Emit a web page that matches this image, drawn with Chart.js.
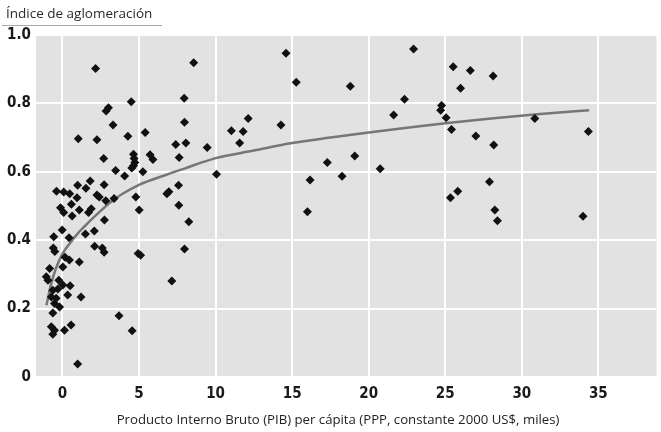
<!DOCTYPE html>
<html>
<head>
<meta charset="utf-8">
<script src="https://cdn.jsdelivr.net/npm/chart.js@4/dist/chart.umd.min.js"></script>
<style>
html,body{margin:0;padding:0;background:#fff;}
#wrap{width:661px;height:432px;position:relative;}
</style>
</head>
<body>
<div id="wrap"><canvas id="c" width="661" height="432"></canvas></div>
<script>
const chartTitle = 'Índice de aglomeración';
const xAxisTitle = 'Producto Interno Bruto (PIB) per cápita (PPP, constante 2000 US$, miles)';
const xTicks = [0, 5, 10, 15, 20, 25, 30, 35];
const yTicks = [0, 0.2, 0.4, 0.6, 0.8, 1.0];

const gdpPerCapita = [
  2.16, 8.57, 14.6, 15.27, 4.49, 7.95, 2.85, 3.0, 3.3, 7.97, 12.13, 14.27, 11.03, 11.8,
  1.03, 2.25, 4.27, 5.4, 11.57, 7.4, 8.06, 9.45, 2.69, 4.64, 4.68, 4.73, 4.64, 4.53,
  5.72, 5.91, 7.62, 3.47, 4.06, 5.25, 10.06, 16.0, 16.17, 17.3,
  22.93, 18.8, 25.52, 26.64, 28.13, 26.0, 22.34, 21.63, 24.76, 24.7, 25.06, 25.41,
  30.85, 34.35, 27.0, 28.17, 19.09, 18.26, 20.75, 27.89, 25.82, 25.34, 28.24, 34.0, 28.41,
  8.25, 7.97, 4.94, 5.1, 7.14, 3.69, 4.55, 4.79, 5.01, 2.83, 3.37, 7.6, 6.82, 6.95, 7.58,
  1.81, 0.99, 1.53, 2.72, -0.39, 0.08, 0.47, 0.95, 2.25, 2.4, 0.58, -0.13, 0.08, 1.1,
  1.88, 1.7, 0.63, 2.74, -0.02, 1.5, 2.08, -0.57, 0.43, -0.6, -0.5, 2.1, 2.6, 2.72,
  0.17, 0.45, 0.02, 1.1, -0.84, -1.06, -0.95, -0.24, 0.02, 0.5, -0.63, -0.3, 0.34, 1.21,
  -0.73, -0.41, -0.52, -0.19, -0.63, -0.73, -0.52, -0.63, 0.13, 0.56, 0.99
];
const agglomerationIndex = [
  0.902, 0.919, 0.947, 0.862, 0.805, 0.815, 0.778, 0.787, 0.737, 0.745, 0.756, 0.737, 0.72, 0.718,
  0.697, 0.694, 0.704, 0.715, 0.684, 0.68, 0.684, 0.671, 0.639, 0.651, 0.639, 0.627, 0.618, 0.611,
  0.65, 0.636, 0.642, 0.604, 0.588, 0.6, 0.593, 0.483, 0.576, 0.627,
  0.959, 0.85, 0.907, 0.896, 0.88, 0.844, 0.812, 0.766, 0.794, 0.78, 0.758, 0.724,
  0.756, 0.718, 0.705, 0.678, 0.646, 0.587, 0.609, 0.571, 0.543, 0.524, 0.488, 0.47, 0.457,
  0.454, 0.374, 0.361, 0.356, 0.281, 0.179, 0.135, 0.526, 0.488, 0.515, 0.522, 0.502, 0.536, 0.542, 0.561,
  0.573, 0.561, 0.552, 0.562, 0.543, 0.541, 0.536, 0.524, 0.532, 0.526, 0.505, 0.495, 0.481, 0.488,
  0.492, 0.481, 0.471, 0.459, 0.43, 0.418, 0.427, 0.41, 0.407, 0.377, 0.367, 0.382, 0.377, 0.365,
  0.35, 0.342, 0.322, 0.336, 0.317, 0.293, 0.283, 0.283, 0.269, 0.267, 0.254, 0.257, 0.24, 0.234,
  0.234, 0.23, 0.215, 0.205, 0.187, 0.147, 0.137, 0.125, 0.137, 0.152, 0.038
];
const trendX = [-1.05, -0.75, -0.45, 0, 0.5, 1, 1.5, 2, 2.6, 3.2, 3.9, 5, 6.7, 8, 10, 12.5, 15, 17.5, 20, 22.5, 25, 28, 31, 34.4];
const trendY = [0.21, 0.27, 0.315, 0.36, 0.392, 0.42, 0.443, 0.465, 0.49, 0.513, 0.535, 0.562, 0.59, 0.61, 0.64, 0.662, 0.684, 0.7, 0.715, 0.729, 0.742, 0.756, 0.768, 0.78];

const scatterData = gdpPerCapita.map((x, i) => ({x: x, y: agglomerationIndex[i]}));
const trendData = trendX.map((x, i) => ({x: x, y: trendY[i]}));

const plotBg = {
  id: 'plotBg',
  beforeDraw(chart) {
    const {ctx, chartArea: a} = chart;
    ctx.save();
    ctx.fillStyle = '#e2e2e2';
    ctx.fillRect(a.left, a.top, a.right - a.left, a.bottom - a.top);
    ctx.restore();
  },
  afterDraw(chart) {
    const {ctx} = chart;
    ctx.save();
    ctx.fillStyle = '#2a2a2a';
    ctx.font = '13.5px "Open Sans", "Noto Sans", sans-serif';
    ctx.textBaseline = 'alphabetic';
    ctx.textAlign = 'left';
    ctx.fillText(chartTitle, 6, 18);
    ctx.strokeStyle = '#a8a8a8';
    ctx.lineWidth = 1;
    ctx.beginPath();
    ctx.moveTo(2, 25.5);
    ctx.lineTo(162, 25.5);
    ctx.stroke();
    ctx.font = '13.2px "Open Sans", "Noto Sans", sans-serif';
    ctx.textAlign = 'center';
    ctx.fillStyle = '#222';
    ctx.fillText(xAxisTitle, 338, 424);
    ctx.restore();
  }
};

new Chart(document.getElementById('c'), {
  type: 'scatter',
  data: {
    datasets: [
      {
        type: 'line',
        data: trendData,
        borderColor: '#767676',
        borderWidth: 2.5,
        pointRadius: 0,
        fill: false,
        cubicInterpolationMode: 'monotone',
        order: 2
      },
      {
        data: scatterData,
        pointStyle: 'rectRot',
        pointRadius: 4.5,
        pointHoverRadius: 4.5,
        backgroundColor: '#111',
        borderColor: '#111',
        borderWidth: 0,
        order: 1
      }
    ]
  },
  options: {
    responsive: false,
    animation: false,
    events: [],
    layout: {padding: {top: 35, right: 0, left: 0, bottom: 0}},
    plugins: {legend: {display: false}, tooltip: {enabled: false}, title: {display: false}},
    scales: {
      x: {
        type: 'linear',
        min: -1.73,
        max: 38.8,
        afterBuildTicks: s => { s.ticks = xTicks.map(v => ({value: v})); },
        afterFit: s => { s.height = 55; },
        grid: {color: '#ffffff', lineWidth: 2, drawTicks: false},
        border: {display: false},
        ticks: {
          padding: 8,
          color: '#1a1a1a',
          font: {family: '"Liberation Sans Narrow", "DejaVu Sans Condensed", sans-serif', size: 15, weight: 'bold'},
          callback: v => String(v)
        }
      },
      y: {
        type: 'linear',
        min: 0,
        max: 1.0,
        afterBuildTicks: s => { s.ticks = yTicks.map(v => ({value: v})); },
        afterFit: s => { s.width = 36; },
        grid: {color: '#ffffff', lineWidth: 2, drawTicks: false},
        border: {display: false},
        ticks: {
          padding: 5,
          color: '#1a1a1a',
          font: {family: '"Liberation Sans Narrow", "DejaVu Sans Condensed", sans-serif', size: 15, weight: 'bold'},
          callback: v => (v === 0 ? '0' : v.toFixed(1))
        }
      }
    }
  },
  plugins: [plotBg]
});
</script>
</body>
</html>
